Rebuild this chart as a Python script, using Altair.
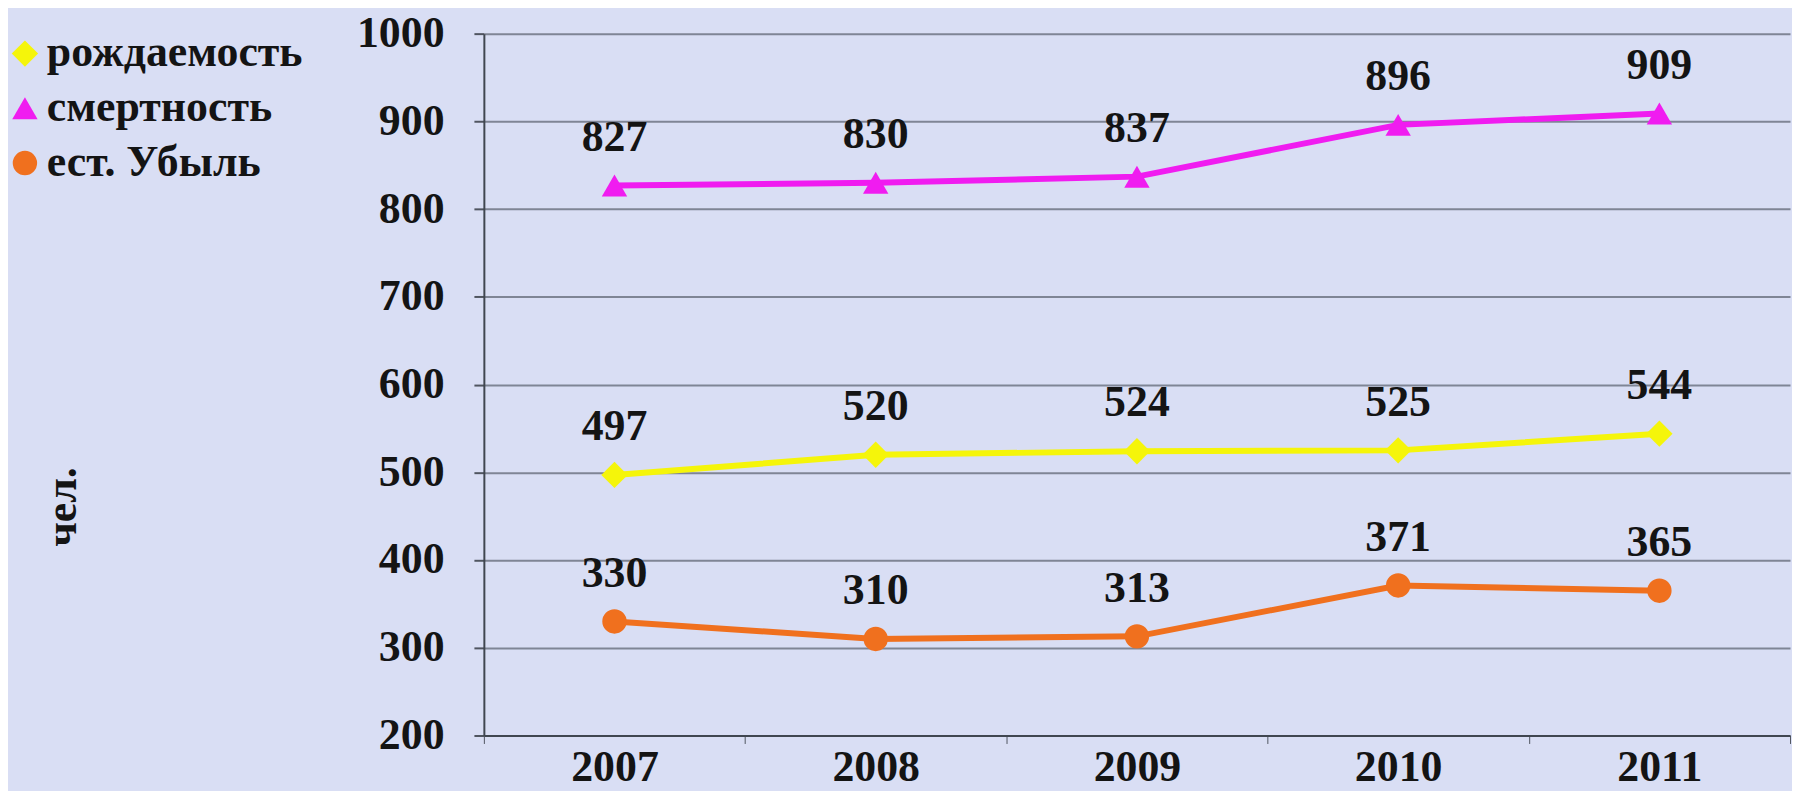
import altair as alt
import pandas as pd

years = ["2007", "2008", "2009", "2010", "2011"]
series_names = ["рождаемость", "смертность", "ест. Убыль"]
birth = [497, 520, 524, 525, 544]
death = [827, 830, 837, 896, 909]
loss = [330, 310, 313, 371, 365]

colors = ["#f5f50a", "#f01cf0", "#f0701e"]
shapes = ["diamond", "triangle-up", "circle"]
sizes = [700, 600, 420]

rows = []
for name, vals in zip(series_names, [birth, death, loss]):
    for y, v in zip(years, vals):
        rows.append({"year": y, "value": v, "series": name, "marker": name})
df = pd.DataFrame(rows)

FONT = "Liberation Serif"
FS = 44

x_enc = alt.X("year:N", bandPosition=0.5,
              scale=alt.Scale(type="band", paddingInner=0, paddingOuter=0),
              axis=alt.Axis(title=None, tickBand="extent", labelAngle=0,
                            labelFont=FONT, labelFontSize=FS, labelFontWeight="bold",
                            labelColor="#141414", labelPadding=2, labelBaseline="top",
                            tickSize=8, tickColor="#505560", domainColor="#404650",
                            domainWidth=2, grid=False))
y_enc = alt.Y("value:Q", scale=alt.Scale(domain=[200, 1000], nice=False, zero=False),
              axis=alt.Axis(values=list(range(200, 1001, 100)), format="d", title="чел.",
                            titleFont=FONT, titleFontSize=FS, titleFontWeight="bold",
                            titleColor="#141414", titleAngle=-90, titleX=-423, titleY=475,
                            titleAlign="center", titleBaseline="middle",
                            labelFont=FONT, labelFontSize=FS, labelFontWeight="bold",
                            labelColor="#141414", labelPadding=30,
                            tickSize=10, tickColor="#505560", tickWidth=2,
                            domainColor="#404650", domainWidth=2,
                            grid=True, gridColor="#7f8595", gridWidth=2))

color_scale = alt.Scale(domain=series_names, range=colors)
legend = alt.Legend(title=None, orient="none", legendX=-483, legendY=-2,
                    labelFont=FONT, labelFontSize=FS, labelFontWeight="bold",
                    labelColor="#141414", symbolSize=160, labelOffset=0, labelLimit=0,
                    rowPadding=11, padding=0, symbolStrokeWidth=0)

base = alt.Chart(df)

lines = base.mark_line(strokeWidth=6).encode(
    x=x_enc, y=y_enc,
    color=alt.Color("series:N", scale=color_scale, legend=legend),
    detail="series:N",
)
points = base.mark_point(filled=True, opacity=1).encode(
    x=x_enc, y=y_enc,
    color=alt.Color("series:N", scale=color_scale, legend=legend),
    shape=alt.Shape("series:N", scale=alt.Scale(domain=series_names, range=shapes), legend=legend),
    size=alt.Size("marker:N", scale=alt.Scale(domain=series_names, range=sizes), legend=None),
)
labels = base.mark_text(font=FONT, fontSize=FS, fontWeight="bold", color="#141414",
                        baseline="alphabetic", dy=-35).encode(
    x=x_enc, y=y_enc, text="value:Q",
)

chart = alt.layer(lines, points, labels).properties(
    width=1312, height=705,
    autosize=alt.AutoSizeParams(type="none"),
    padding={"left": 478, "top": 24, "right": 2, "bottom": 54},
    background="#d9def4",
).configure_view(stroke=None)

chart.save("out.html", embed_options={"renderer": "svg", "actions": False})
